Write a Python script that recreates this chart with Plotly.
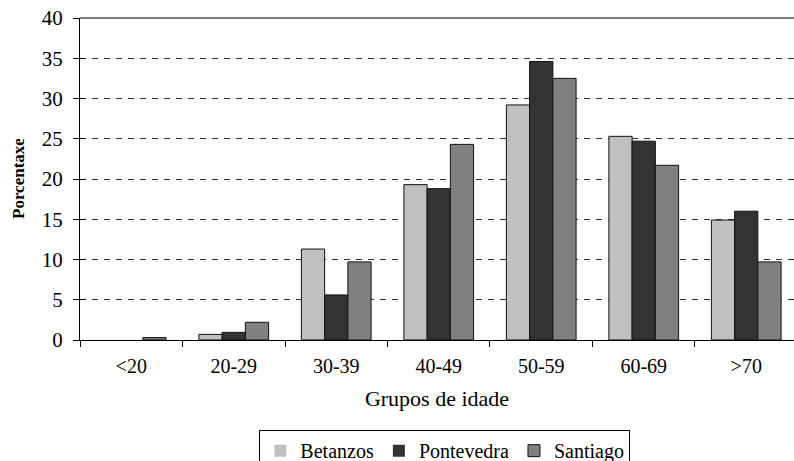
import plotly.graph_objects as go

categories = ["<20", "20-29", "30-39", "40-49", "50-59", "60-69", ">70"]
betanzos = [0, 0.7, 11.3, 19.3, 29.2, 25.3, 14.9]
pontevedra = [0, 0.95, 5.6, 18.8, 34.6, 24.7, 16.0]
santiago = [0.3, 2.2, 9.7, 24.3, 32.5, 21.7, 9.7]
y_ticks = [0, 5, 10, 15, 20, 25, 30, 35, 40]

FONT = "Times New Roman, Liberation Serif, DejaVu Serif, serif"

fig = go.Figure()
for name, vals, col in [("Betanzos", betanzos, "#C0C0C0"),
                        ("Pontevedra", pontevedra, "#333333"),
                        ("Santiago", santiago, "#808080")]:
    fig.add_trace(go.Bar(x=categories, y=vals, name=name,
                         marker=dict(color=col,
                                     line=dict(color="#111111",
                                               width=[0 if v == 0 else 1 for v in vals]))))

fig.add_trace(go.Scatter(x=categories, y=[None]*len(categories), yaxis="y2",
                         showlegend=False, hoverinfo="skip"))

fig.update_layout(
    width=794, height=461,
    margin=dict(l=80, r=0, t=18, b=121, autoexpand=False),
    paper_bgcolor="white", plot_bgcolor="white",
    font=dict(family=FONT, size=20, color="black"),
    barmode="group", bargap=0.32, bargroupgap=0,
    xaxis=dict(
        type="category", range=[-0.5, 6.466], automargin=False,
        showline=True, linecolor="black", linewidth=1,
        ticks="outside", ticklen=6, tickcolor="black", tickson="boundaries",
        ticklabelstandoff=8,
        tickfont=dict(family=FONT, size=20),
        showgrid=False,
        title=dict(text="Grupos de idade", font=dict(family=FONT, size=22), standoff=14),
    ),
    yaxis=dict(
        range=[0, 40], tickvals=y_ticks, automargin=False,
        showline=True, linecolor="black", linewidth=1,
        ticks="outside", ticklen=6, tickcolor="black",
        ticklabelstandoff=6,
        tickfont=dict(family=FONT, size=21),
        showgrid=True, gridcolor="#333333", gridwidth=1, griddash="6px,6px",
        zeroline=False,
    ),
    yaxis2=dict(
        range=[0, 40], tickvals=y_ticks, overlaying="y", side="left",
        automargin=False,
        ticks="inside", ticklen=6, tickcolor="black", showticklabels=False,
        showgrid=False, zeroline=False, showline=False,
    ),
    legend=dict(
        orientation="h", x=0.511, xanchor="center", y=-0.28, yanchor="top",
        bordercolor="black", borderwidth=1, bgcolor="white",
        font=dict(family=FONT, size=20), itemwidth=30, tracegroupgap=0,
    ),
    shapes=[dict(type="line", xref="paper", yref="paper", x0=0, x1=1, y0=1, y1=1,
                 line=dict(color="black", width=1))],
    annotations=[dict(
        text="<b>Porcentaxe</b>", textangle=-90, xref="paper", yref="paper",
        x=(18 - 80) / 714, y=0.5, xanchor="center", yanchor="middle",
        showarrow=False, font=dict(size=17, family=FONT),
    )],
)

fig.write_html("out.html", config={"displayModeBar": False},
               post_script="document.body.style.margin='0';")
